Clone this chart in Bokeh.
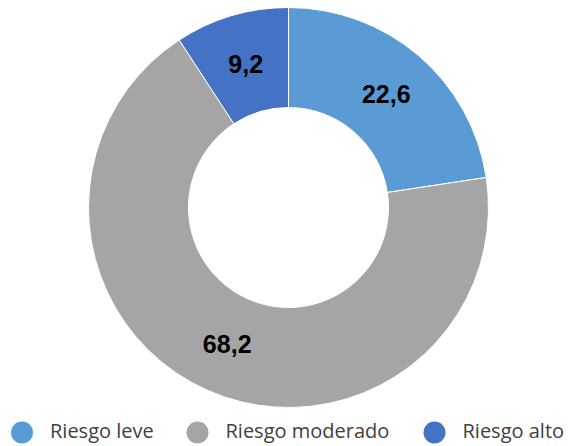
import math
from bokeh.plotting import figure
from bokeh.models import Range1d, ColumnDataSource
from bokeh.core.properties import value
from bokeh.embed import file_html
from bokeh.resources import INLINE

categories = ["Riesgo leve", "Riesgo moderado", "Riesgo alto"]
values = [22.6, 68.2, 9.2]
colors = ["#5B9BD5", "#A5A5A5", "#4472C4"]
labels = ["22,6", "68,2", "9,2"]

W, H = 568, 446
p = figure(width=W, height=H, output_backend="svg", toolbar_location=None,
           x_range=Range1d(0, W), y_range=Range1d(0, H),
           min_border=0, outline_line_color=None)
p.axis.visible = False
p.grid.visible = False

# page coords -> data: x = page_x, y = H - page_y
cx, cy = 288, H - 207
r_out, r_in = 200, 100
total = sum(values)
starts, ends, lx, ly = [], [], [], []
cum = 0.0
for v in values:
    a0 = math.pi / 2 - 2 * math.pi * cum / total
    a1 = math.pi / 2 - 2 * math.pi * (cum + v) / total
    mid = (a0 + a1) / 2
    starts.append(a0); ends.append(a1)
    rm = (r_out + r_in) / 2
    lx.append(cx + rm * math.cos(mid)); ly.append(cy + rm * math.sin(mid))
    cum += v

src = ColumnDataSource(dict(start=starts, end=ends, color=colors, lx=lx, ly=ly, label=labels))
p.annular_wedge(x=cx, y=cy, inner_radius=r_in, outer_radius=r_out,
                start_angle="start", end_angle="end", direction="clock",
                fill_color="color", line_color="white", line_width=1, source=src)
p.text(x="lx", y="ly", text="label", source=src, text_align="center", text_baseline="middle",
       text_font=value("Liberation Sans"), text_font_style="bold", text_font_size="25px",
       text_color="black")

# legend
leg_x = [21.5, 197, 434]
lsrc = ColumnDataSource(dict(x=leg_x, tx=[x + 28 for x in leg_x], y=[H - 432] * 3,
                             ty=[H - 430] * 3, color=colors, name=categories))
p.scatter(x="x", y="y", size=22, marker="circle", fill_color="color", line_color=None, source=lsrc)
p.text(x="tx", y="ty", text="name", source=lsrc, text_align="left", text_baseline="middle",
       text_font=value("Open Sans"), text_font_size="20px", text_color="#404040")

open("out.html", "w").write(file_html(p, INLINE))
